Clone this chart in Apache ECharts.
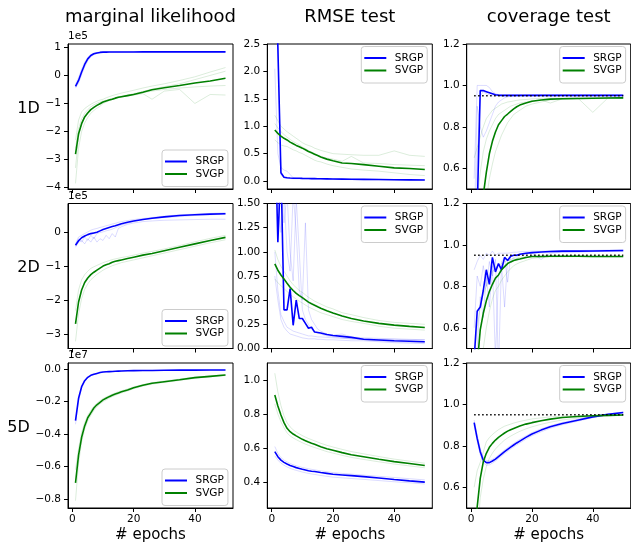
<!DOCTYPE html>
<html><head><meta charset="utf-8">
<script src="https://cdn.jsdelivr.net/npm/echarts@6/dist/echarts.min.js"></script>
<style>html,body{margin:0;padding:0;background:#fff}#c{width:631px;height:546px}</style>
</head><body><div id="c"></div>
<script>
// ---------------- data ----------------
const EPOCHS = [1,2,3,4,5,6,7,8,9,10,11,12,13,14,15,16,18,20,23,26,30,35,40,45,50];
const COL_TITLES = ['marginal likelihood', 'RMSE test', 'coverage test'];
const ROW_LABELS = ['1D', '2D', '5D'];
const SERIES_NAMES = ['SRGP', 'SVGP'];
const X_TICKS = [0, 20, 40];
const X_LABEL = '# epochs';
const TARGET_COVERAGE = 0.95;

// marginal likelihood, 1D (x1e5)
const ML_1D_SRGP = [-0.39,-0.18,0.12,0.39,0.59,0.71,0.77,0.80,0.82,0.83,0.83,0.835,0.835,0.835,0.835,0.835,0.835,0.835,0.838,0.838,0.84,0.84,0.84,0.84,0.84];
const ML_1D_SRGP_RUNS = [
  [-0.45,-0.28,0.02,0.30,0.52,0.66,0.74,0.78,0.81,0.82,0.83,0.83,0.83,0.835,0.835,0.835,0.835,0.84,0.84,0.84,0.84,0.84,0.84,0.84,0.84],
  [-0.32,-0.08,0.22,0.47,0.64,0.75,0.80,0.82,0.83,0.835,0.84,0.84,0.84,0.84,0.84,0.84,0.845,0.845,0.845,0.845,0.845,0.845,0.845,0.845,0.845]
];
const ML_1D_SVGP = [-2.81,-2.08,-1.72,-1.48,-1.34,-1.22,-1.14,-1.07,-1.01,-0.95,-0.91,-0.88,-0.85,-0.81,-0.78,-0.76,-0.72,-0.68,-0.60,-0.51,-0.44,-0.36,-0.27,-0.20,-0.10];
const ML_1D_SVGP_RUNS = [
  [-2.3,-1.6,-1.3,-1.18,-1.1,-1.03,-0.97,-0.92,-0.88,-0.85,-0.8,-0.76,-0.72,-0.69,-0.66,-0.63,-0.58,-0.53,-0.45,-0.38,-0.3,-0.18,-0.05,0.12,0.28],
  [-3.85,-2.6,-2.0,-1.7,-1.5,-1.35,-1.25,-1.17,-1.1,-1.0,-0.95,-0.9,-0.86,-0.83,-0.8,-0.77,-0.71,-0.65,-0.57,-0.49,-0.4,-0.3,-0.15,0.0,0.15],
  [-3.3,-2.2,-1.7,-1.45,-1.3,-1.2,-1.12,-1.05,-1.0,-0.95,-0.91,-0.87,-0.84,-0.81,-0.78,-0.76,-0.73,-0.7,-0.65,-0.85,-0.56,-0.5,-1.0,-0.68,-0.7],
  [-2.6,-1.9,-1.55,-1.35,-1.22,-1.12,-1.05,-0.99,-0.95,-0.91,-0.88,-0.85,-0.82,-0.79,-0.76,-0.74,-0.7,-0.66,-0.61,-0.56,-0.5,-0.45,-0.41,-0.38,-0.36]
];

// RMSE, 1D
const RMSE_1D_SRGP = [4.0,2.45,0.15,0.07,0.06,0.055,0.052,0.05,0.05,0.048,0.047,0.046,0.045,0.044,0.043,0.042,0.04,0.038,0.035,0.032,0.03,0.027,0.024,0.022,0.02];
const RMSE_1D_SRGP_RUNS = [
  [2.05,0.5,0.25,0.2,0.18,0.12,0.06,0.05,0.048,0.047,0.046,0.045,0.044,0.043,0.042,0.041,0.04,0.038,0.036,0.034,0.031,0.029,0.027,0.025,0.023],
  [5.0,2.6,0.12,0.06,0.05,0.045,0.043,0.041,0.04,0.039,0.038,0.037,0.036,0.035,0.034,0.033,0.031,0.03,0.028,0.026,0.024,0.022,0.02,0.019,0.018]
];
const RMSE_1D_SVGP = [0.93,0.87,0.82,0.78,0.75,0.71,0.68,0.65,0.625,0.60,0.57,0.54,0.515,0.49,0.465,0.44,0.40,0.37,0.33,0.32,0.30,0.27,0.24,0.23,0.21];
const RMSE_1D_SVGP_RUNS = [
  [1.2,1.1,1.0,0.95,0.9,0.86,0.82,0.78,0.74,0.7,0.67,0.65,0.63,0.6,0.58,0.56,0.53,0.5,0.49,0.48,0.47,0.47,0.55,0.47,0.45],
  [0.75,0.7,0.66,0.64,0.63,0.6,0.57,0.55,0.52,0.5,0.47,0.44,0.41,0.38,0.36,0.35,0.31,0.28,0.25,0.22,0.2,0.18,0.15,0.12,0.1],
  [1.05,0.97,0.9,0.85,0.8,0.76,0.72,0.69,0.66,0.62,0.59,0.56,0.53,0.5,0.47,0.45,0.42,0.4,0.36,0.45,0.33,0.32,0.3,0.29,0.28]
];

// coverage, 1D
const COV_1D_SRGP = [0.0,0.4,0.975,0.975,0.97,0.965,0.96,0.955,0.953,0.952,0.952,0.952,0.952,0.952,0.952,0.952,0.952,0.952,0.952,0.952,0.952,0.952,0.952,0.952,0.952];
const COV_1D_SRGP_RUNS = [
  [0.55,1.0,1.0,1.0,1.0,0.99,0.97,0.96,0.956,0.955,0.955,0.955,0.955,0.955,0.955,0.955,0.955,0.955,0.955,0.955,0.955,0.955,0.955,0.955,0.955],
  [0.3,0.9,0.8,0.75,0.78,0.82,0.86,0.9,0.92,0.93,0.94,0.945,0.948,0.95,0.95,0.95,0.952,0.952,0.952,0.952,0.952,0.952,0.952,0.952,0.952],
  [0.2,0.65,0.95,0.97,0.96,0.955,0.95,0.95,0.95,0.95,0.95,0.95,0.95,0.95,0.95,0.95,0.95,0.95,0.95,0.95,0.95,0.95,0.95,0.95,0.95]
];
const COV_1D_SVGP = [0.05,0.2,0.35,0.47,0.58,0.67,0.73,0.775,0.81,0.83,0.85,0.862,0.875,0.887,0.897,0.905,0.915,0.924,0.93,0.934,0.936,0.937,0.938,0.939,0.94];
const COV_1D_SVGP_RUNS = [
  [0.65,0.7,0.75,0.8,0.84,0.86,0.88,0.89,0.9,0.91,0.915,0.92,0.922,0.925,0.928,0.93,0.932,0.935,0.937,0.938,0.939,0.94,0.87,0.94,0.94],
  [0.3,0.45,0.58,0.68,0.74,0.78,0.81,0.84,0.86,0.87,0.88,0.89,0.9,0.905,0.91,0.915,0.92,0.925,0.93,0.915,0.935,0.937,0.938,0.94,0.94],
  [0.0,0.1,0.2,0.35,0.45,0.55,0.62,0.68,0.72,0.76,0.79,0.82,0.84,0.86,0.87,0.88,0.9,0.91,0.92,0.93,0.933,0.935,0.936,0.937,0.938]
];

// marginal likelihood, 2D (x1e5)
const ML_2D_SRGP = [-0.39,-0.26,-0.17,-0.12,-0.08,-0.05,-0.03,-0.01,0.03,0.07,0.10,0.13,0.155,0.18,0.21,0.24,0.28,0.32,0.36,0.40,0.44,0.48,0.50,0.52,0.53];
const ML_2D_SRGP_RUNS = [
  [-0.45,-0.3,-0.25,-0.35,-0.2,-0.3,-0.15,-0.3,-0.2,-0.25,-0.1,-0.2,-0.05,-0.15,0.1,0.15,0.22,0.26,0.3,0.32,0.34,0.35,0.36,0.37,0.37],
  [-0.35,-0.15,-0.1,-0.05,0.0,0.05,0.08,0.1,0.13,0.15,0.18,0.2,0.23,0.25,0.28,0.3,0.33,0.36,0.39,0.42,0.46,0.5,0.52,0.54,0.56],
  [-0.4,-0.2,-0.3,-0.15,-0.25,-0.1,-0.2,-0.05,-0.02,0.0,0.03,0.05,0.08,0.12,0.16,0.2,0.25,0.3,0.36,0.4,0.42,0.45,0.48,0.5,0.52]
];
const ML_2D_SVGP = [-2.69,-2.05,-1.70,-1.48,-1.35,-1.25,-1.18,-1.12,-1.06,-1.0,-0.96,-0.93,-0.89,-0.86,-0.84,-0.82,-0.78,-0.74,-0.68,-0.63,-0.55,-0.45,-0.35,-0.25,-0.16];
const ML_2D_SVGP_RUNS = [
  [-2.3,-1.7,-1.4,-1.25,-1.15,-1.07,-1.02,-0.98,-0.94,-0.9,-0.87,-0.84,-0.81,-0.79,-0.77,-0.75,-0.72,-0.68,-0.62,-0.57,-0.5,-0.4,-0.29,-0.19,-0.1],
  [-3.2,-2.4,-1.95,-1.68,-1.52,-1.4,-1.32,-1.24,-1.18,-1.12,-1.07,-1.03,-0.99,-0.96,-0.93,-0.9,-0.86,-0.82,-0.76,-0.7,-0.62,-0.52,-0.42,-0.32,-0.23]
];

// RMSE, 2D
const RMSE_2D_SRGP = [2.4,1.1,1.9,0.40,0.40,0.62,0.24,0.50,0.31,0.31,0.26,0.21,0.22,0.17,0.165,0.16,0.145,0.135,0.125,0.115,0.095,0.088,0.08,0.075,0.07];
const RMSE_2D_SRGP_RUNS = [
  [1.0,0.6,0.35,0.28,0.22,0.2,0.18,0.17,0.16,0.15,0.14,0.13,0.13,0.125,0.12,0.12,0.115,0.11,0.105,0.1,0.1,0.095,0.095,0.09,0.09],
  [2.0,1.6,1.2,1.6,1.0,0.8,1.6,1.2,0.6,0.5,1.3,0.4,0.3,0.25,0.2,0.18,0.15,0.14,0.15,0.12,0.11,0.105,0.1,0.095,0.09],
  [3.0,2.5,1.7,1.3,1.6,1.0,0.7,1.55,1.0,0.4,0.3,0.25,0.2,0.18,0.16,0.15,0.13,0.12,0.11,0.1,0.09,0.08,0.07,0.065,0.06],
  [0.75,0.5,0.3,0.22,0.18,0.15,0.14,0.13,0.12,0.11,0.105,0.1,0.1,0.1,0.095,0.095,0.09,0.09,0.085,0.08,0.08,0.07,0.06,0.055,0.05]
];
const RMSE_2D_SVGP = [0.876,0.81,0.76,0.72,0.675,0.634,0.60,0.57,0.547,0.526,0.503,0.48,0.463,0.447,0.431,0.416,0.39,0.367,0.336,0.31,0.284,0.26,0.242,0.229,0.218];
const RMSE_2D_SVGP_RUNS = [
  [1.02,0.92,0.85,0.8,0.75,0.7,0.66,0.63,0.6,0.58,0.555,0.53,0.51,0.49,0.475,0.46,0.43,0.41,0.37,0.35,0.32,0.29,0.27,0.26,0.25],
  [0.72,0.68,0.65,0.62,0.59,0.56,0.535,0.51,0.49,0.47,0.45,0.43,0.415,0.4,0.385,0.37,0.35,0.33,0.3,0.28,0.26,0.23,0.21,0.2,0.19]
];

// coverage, 2D
const COV_2D_SRGP = [0.45,0.68,0.70,0.78,0.88,0.81,0.94,0.87,0.91,0.88,0.94,0.925,0.945,0.95,0.95,0.955,0.96,0.963,0.966,0.968,0.97,0.97,0.971,0.972,0.973];
const COV_2D_SRGP_RUNS = [
  [0.88,0.92,0.95,0.93,0.96,0.95,0.97,0.95,0.96,0.96,0.96,0.96,0.962,0.965,0.965,0.967,0.968,0.97,0.97,0.972,0.972,0.973,0.974,0.975,0.975],
  [0.3,0.5,0.75,0.65,0.85,0.7,0.9,0.45,0.85,0.9,0.7,0.93,0.92,0.94,0.945,0.95,0.955,0.96,0.962,0.963,0.965,0.967,0.968,0.97,0.97],
  [0.6,0.85,0.8,0.9,0.8,0.92,0.85,0.93,0.4,0.92,0.94,0.82,0.945,0.95,0.952,0.955,0.958,0.96,0.93,0.96,0.965,0.966,0.968,0.969,0.97]
];
const COV_2D_SVGP = [0.2,0.42,0.59,0.67,0.73,0.775,0.81,0.84,0.855,0.88,0.895,0.91,0.918,0.925,0.929,0.932,0.939,0.944,0.944,0.945,0.945,0.945,0.944,0.944,0.944];
const COV_2D_SVGP_RUNS = [
  [0.45,0.6,0.7,0.76,0.8,0.84,0.87,0.89,0.9,0.91,0.918,0.925,0.93,0.935,0.937,0.94,0.943,0.945,0.945,0.946,0.946,0.946,0.945,0.945,0.945],
  [0.0,0.2,0.35,0.5,0.6,0.68,0.74,0.78,0.8,0.83,0.85,0.87,0.885,0.9,0.908,0.915,0.925,0.935,0.94,0.942,0.942,0.943,0.943,0.943,0.943]
];

// marginal likelihood, 5D (x1e7)
const ML_5D_SRGP = [-0.318,-0.18,-0.109,-0.072,-0.051,-0.039,-0.032,-0.027,-0.022,-0.018,-0.017,-0.016,-0.015,-0.014,-0.013,-0.012,-0.011,-0.01,-0.009,-0.009,-0.008,-0.007,-0.007,-0.006,-0.006];
const ML_5D_SRGP_RUNS = [
  [-0.34,-0.195,-0.118,-0.078,-0.055,-0.042,-0.034,-0.029,-0.024,-0.02,-0.018,-0.017,-0.016,-0.015,-0.014,-0.013,-0.012,-0.011,-0.01,-0.01,-0.009,-0.008,-0.008,-0.007,-0.007]
];
const ML_5D_SVGP = [-0.70,-0.53,-0.42,-0.35,-0.30,-0.27,-0.24,-0.22,-0.205,-0.19,-0.18,-0.17,-0.162,-0.154,-0.147,-0.14,-0.129,-0.115,-0.10,-0.088,-0.078,-0.066,-0.053,-0.045,-0.037];
const ML_5D_SVGP_RUNS = [
  [-0.81,-0.58,-0.45,-0.37,-0.32,-0.285,-0.255,-0.232,-0.215,-0.2,-0.19,-0.179,-0.17,-0.162,-0.154,-0.147,-0.135,-0.121,-0.105,-0.093,-0.082,-0.07,-0.057,-0.048,-0.04],
  [-0.62,-0.49,-0.39,-0.33,-0.285,-0.255,-0.228,-0.21,-0.195,-0.182,-0.172,-0.163,-0.155,-0.147,-0.14,-0.134,-0.123,-0.11,-0.096,-0.084,-0.074,-0.062,-0.05,-0.042,-0.034]
];

// RMSE, 5D
const RMSE_5D_SRGP = [0.58,0.55,0.53,0.517,0.507,0.498,0.492,0.486,0.481,0.476,0.472,0.468,0.465,0.463,0.46,0.457,0.452,0.447,0.443,0.439,0.433,0.425,0.416,0.408,0.401];
const RMSE_5D_SRGP_RUNS = [
  [0.61,0.57,0.545,0.53,0.52,0.51,0.503,0.497,0.492,0.487,0.483,0.479,0.476,0.473,0.47,0.467,0.462,0.457,0.452,0.448,0.442,0.435,0.428,0.421,0.414],
  [0.555,0.53,0.512,0.5,0.49,0.482,0.475,0.47,0.465,0.46,0.456,0.452,0.449,0.446,0.443,0.44,0.435,0.43,0.426,0.422,0.417,0.41,0.403,0.397,0.39]
];
const RMSE_5D_SVGP = [0.912,0.848,0.795,0.75,0.717,0.697,0.683,0.672,0.662,0.652,0.644,0.636,0.629,0.623,0.616,0.609,0.597,0.588,0.574,0.562,0.55,0.535,0.521,0.51,0.498];
const RMSE_5D_SVGP_RUNS = [
  [1.04,0.93,0.85,0.79,0.75,0.725,0.708,0.695,0.684,0.674,0.665,0.657,0.65,0.643,0.636,0.629,0.617,0.607,0.593,0.58,0.567,0.551,0.536,0.524,0.512],
  [0.86,0.8,0.755,0.72,0.69,0.672,0.66,0.65,0.641,0.632,0.624,0.617,0.61,0.604,0.598,0.592,0.58,0.571,0.558,0.546,0.534,0.52,0.507,0.496,0.485]
];

// coverage, 5D
const COV_5D_SRGP = [0.912,0.836,0.772,0.731,0.719,0.719,0.727,0.736,0.748,0.76,0.772,0.783,0.794,0.804,0.814,0.823,0.841,0.857,0.876,0.892,0.908,0.924,0.94,0.952,0.961];
const COV_5D_SRGP_RUNS = [
  [0.925,0.85,0.787,0.745,0.73,0.728,0.735,0.744,0.756,0.768,0.78,0.791,0.802,0.812,0.822,0.831,0.848,0.864,0.882,0.897,0.913,0.928,0.943,0.954,0.963],
  [0.9,0.822,0.758,0.718,0.707,0.708,0.717,0.727,0.739,0.751,0.763,0.774,0.785,0.795,0.805,0.814,0.832,0.849,0.868,0.885,0.902,0.919,0.936,0.949,0.958]
];
const COV_5D_SVGP = [0.25,0.506,0.643,0.723,0.764,0.793,0.812,0.828,0.841,0.852,0.862,0.871,0.878,0.884,0.89,0.896,0.905,0.912,0.921,0.929,0.937,0.942,0.945,0.947,0.949];
const COV_5D_SVGP_RUNS = [
  [0.6,0.68,0.72,0.77,0.82,0.84,0.855,0.867,0.878,0.887,0.895,0.9,0.905,0.91,0.914,0.918,0.924,0.93,0.935,0.94,0.943,0.946,0.948,0.949,0.95],
  [0.1,0.35,0.55,0.64,0.7,0.74,0.765,0.785,0.8,0.815,0.828,0.838,0.847,0.855,0.863,0.87,0.882,0.892,0.904,0.914,0.925,0.934,0.94,0.944,0.947]
];

// tick labels
const Y_TICKS_ML_1D = [-4,-3,-2,-1,0,1];
const Y_TICKS_ML_2D = [-3,-2,-1,0];
const Y_TICKS_ML_5D = [-0.8,-0.6,-0.4,-0.2,0.0];
const Y_TICKS_RMSE_1D = [0.0,0.5,1.0,1.5,2.0,2.5];
const Y_TICKS_RMSE_2D = [0.0,0.25,0.5,0.75,1.0,1.25,1.5];
const Y_TICKS_RMSE_5D = [0.4,0.6,0.8,1.0];
const Y_TICKS_COV = [0.6,0.8,1.0,1.2];
const OFFSET_TEXT = ['1e5', '1e5', '1e7'];

// ---------------- panels ----------------
const PANELS = [
  {srgp: ML_1D_SRGP, srgpRuns: ML_1D_SRGP_RUNS, svgp: ML_1D_SVGP, svgpRuns: ML_1D_SVGP_RUNS, ticks: Y_TICKS_ML_1D, lim: [-4.05, 1.12], dec: 0, offset: OFFSET_TEXT[0], legendLow: true},
  {srgp: RMSE_1D_SRGP, srgpRuns: RMSE_1D_SRGP_RUNS, svgp: RMSE_1D_SVGP, svgpRuns: RMSE_1D_SVGP_RUNS, ticks: Y_TICKS_RMSE_1D, lim: [-0.145, 2.5], dec: 1},
  {srgp: COV_1D_SRGP, srgpRuns: COV_1D_SRGP_RUNS, svgp: COV_1D_SVGP, svgpRuns: COV_1D_SVGP_RUNS, ticks: Y_TICKS_COV, lim: [0.5, 1.2], dec: 1, target: true},
  {srgp: ML_2D_SRGP, srgpRuns: ML_2D_SRGP_RUNS, svgp: ML_2D_SVGP, svgpRuns: ML_2D_SVGP_RUNS, ticks: Y_TICKS_ML_2D, lim: [-3.41, 0.83], dec: 0, offset: OFFSET_TEXT[1], legendLow: true},
  {srgp: RMSE_2D_SRGP, srgpRuns: RMSE_2D_SRGP_RUNS, svgp: RMSE_2D_SVGP, svgpRuns: RMSE_2D_SVGP_RUNS, ticks: Y_TICKS_RMSE_2D, lim: [0, 1.5], dec: 2},
  {srgp: COV_2D_SRGP, srgpRuns: COV_2D_SRGP_RUNS, svgp: COV_2D_SVGP, svgpRuns: COV_2D_SVGP_RUNS, ticks: Y_TICKS_COV, lim: [0.5, 1.2], dec: 1, target: true},
  {srgp: ML_5D_SRGP, srgpRuns: ML_5D_SRGP_RUNS, svgp: ML_5D_SVGP, svgpRuns: ML_5D_SVGP_RUNS, ticks: Y_TICKS_ML_5D, lim: [-0.855, 0.037], dec: 1, offset: OFFSET_TEXT[2], legendLow: true},
  {srgp: RMSE_5D_SRGP, srgpRuns: RMSE_5D_SRGP_RUNS, svgp: RMSE_5D_SVGP, svgpRuns: RMSE_5D_SVGP_RUNS, ticks: Y_TICKS_RMSE_5D, lim: [0.249, 1.1], dec: 1},
  {srgp: COV_5D_SRGP, srgpRuns: COV_5D_SRGP_RUNS, svgp: COV_5D_SVGP, svgpRuns: COV_5D_SVGP_RUNS, ticks: Y_TICKS_COV, lim: [0.5, 1.2], dec: 1, target: true}
];

// ---------------- layout & style ----------------
const COL_LEFT = [68, 267.3, 466.7];
const COL_W = [165, 165, 164];
const ROW_TOP = [44, 203.5, 363];
const ROW_H = 145;
const X_LIM = [-1.45, 52.45];
const BLUE = '#0000ff', GREEN = '#008000';
const FONT = 'DejaVu Sans';

function fmt(dec) {
  return v => {
    let s = Math.abs(v) < 1e-9 ? (0).toFixed(dec) : v.toFixed(dec);
    return s.replace('-', '\u2212');
  };
}
function pts(vals) { return EPOCHS.map((e, i) => [e, vals[i]]); }

const grids = [], xAxes = [], yAxes = [], series = [], legends = [], graphics = [];

PANELS.forEach((p, k) => {
  const r = Math.floor(k / 3), c = k % 3;
  const left = COL_LEFT[c], top = ROW_TOP[r], w = COL_W[c];
  grids.push({left, top, width: w, height: ROW_H, show: true, borderColor: '#000', borderWidth: 1, backgroundColor: 'transparent', containLabel: false});
  const bottomRow = r === 2;
  xAxes.push({
    type: 'value', gridIndex: k, min: X_LIM[0], max: X_LIM[1],
    axisLine: {show: true, onZero: false, lineStyle: {color: '#000', width: 1}},
    axisTick: {show: true, length: 4, lineStyle: {color: '#000', width: 1}, customValues: X_TICKS},
    axisLabel: {show: bottomRow, customValues: X_TICKS, color: '#000', fontSize: 10.5, fontFamily: FONT, margin: 6},
    splitLine: {show: false},
    name: bottomRow ? X_LABEL : '', nameLocation: 'middle', nameGap: 20,
    nameTextStyle: {fontSize: 15, color: '#000', fontFamily: FONT}
  });
  yAxes.push({
    type: 'value', gridIndex: k, min: p.lim[0], max: p.lim[1],
    axisLine: {show: true, onZero: false, lineStyle: {color: '#000', width: 1}},
    axisTick: {show: true, length: 4, lineStyle: {color: '#000', width: 1}, customValues: p.ticks},
    axisLabel: {customValues: p.ticks, formatter: fmt(p.dec), color: '#000', fontSize: 10.5, fontFamily: FONT, margin: 7},
    splitLine: {show: false},
    name: p.offset || '', nameLocation: 'end', nameGap: 2,
    nameTextStyle: {align: 'left', verticalAlign: 'bottom', fontSize: 10.5, color: '#000', fontFamily: FONT}
  });
  const runs = [[p.srgpRuns, BLUE], [p.svgpRuns, GREEN]];
  runs.forEach(([set, col]) => set.forEach(run => series.push({
    type: 'line', xAxisIndex: k, yAxisIndex: k, data: pts(run), symbol: 'none', silent: true,
    lineStyle: {color: col, width: 1, opacity: 0.14}, itemStyle: {color: col}, z: 1
  })));
  series.push({type: 'line', name: SERIES_NAMES[0], xAxisIndex: k, yAxisIndex: k, data: pts(p.srgp), symbol: 'none', color: BLUE, lineStyle: {color: BLUE, width: 1.6}, z: 3});
  series.push({type: 'line', name: SERIES_NAMES[1], xAxisIndex: k, yAxisIndex: k, data: pts(p.svgp), symbol: 'none', color: GREEN, lineStyle: {color: GREEN, width: 1.6}, z: 3});
  if (p.target) {
    series.push({type: 'line', xAxisIndex: k, yAxisIndex: k, silent: true,
      data: [[EPOCHS[0], TARGET_COVERAGE], [EPOCHS[EPOCHS.length - 1], TARGET_COVERAGE]],
      symbol: 'none', lineStyle: {color: '#000', width: 1.5, type: [1.5, 2.5]}, z: 4});
  }
  const lgLeft = left + w - 71;
  const lgTop = p.legendLow ? top + ROW_H - 39 : top + 2.5;
  legends.push({
    data: SERIES_NAMES, left: lgLeft, top: lgTop, orient: 'vertical', icon: 'rect',
    itemWidth: 22, itemHeight: 2, itemGap: 0.5, padding: [5.5, 4, 6.5, 3], selectedMode: false,
    textStyle: {fontSize: 10.5, color: '#000', fontFamily: FONT, lineHeight: 12, padding: [0, 0, 0, 3.5]},
    backgroundColor: 'rgba(255,255,255,0.8)', borderColor: '#cccccc', borderWidth: 1, borderRadius: 3
  });
});

COL_TITLES.forEach((t, c) => graphics.push({
  type: 'text', x: COL_LEFT[c] + COL_W[c] / 2, y: 17,
  style: {text: t, fill: '#000', font: '18px "DejaVu Sans"', textAlign: 'center', textVerticalAlign: 'middle'}
}));
const ROW_LABEL_X = [28.5, 28.5, 18.5];
ROW_LABELS.forEach((t, r) => graphics.push({
  type: 'text', x: ROW_LABEL_X[r], y: ROW_TOP[r] + ROW_H / 2 - 8,
  style: {text: t, fill: '#000', font: '16px "DejaVu Sans"', textAlign: 'center', textVerticalAlign: 'middle'}
}));

const chart = echarts.init(document.getElementById('c'), null, {renderer: 'canvas'});
chart.setOption({
  animation: false,
  backgroundColor: '#ffffff',
  textStyle: {fontFamily: FONT},
  grid: grids, xAxis: xAxes, yAxis: yAxes, series, legend: legends, graphic: graphics
});
</script></body></html>
